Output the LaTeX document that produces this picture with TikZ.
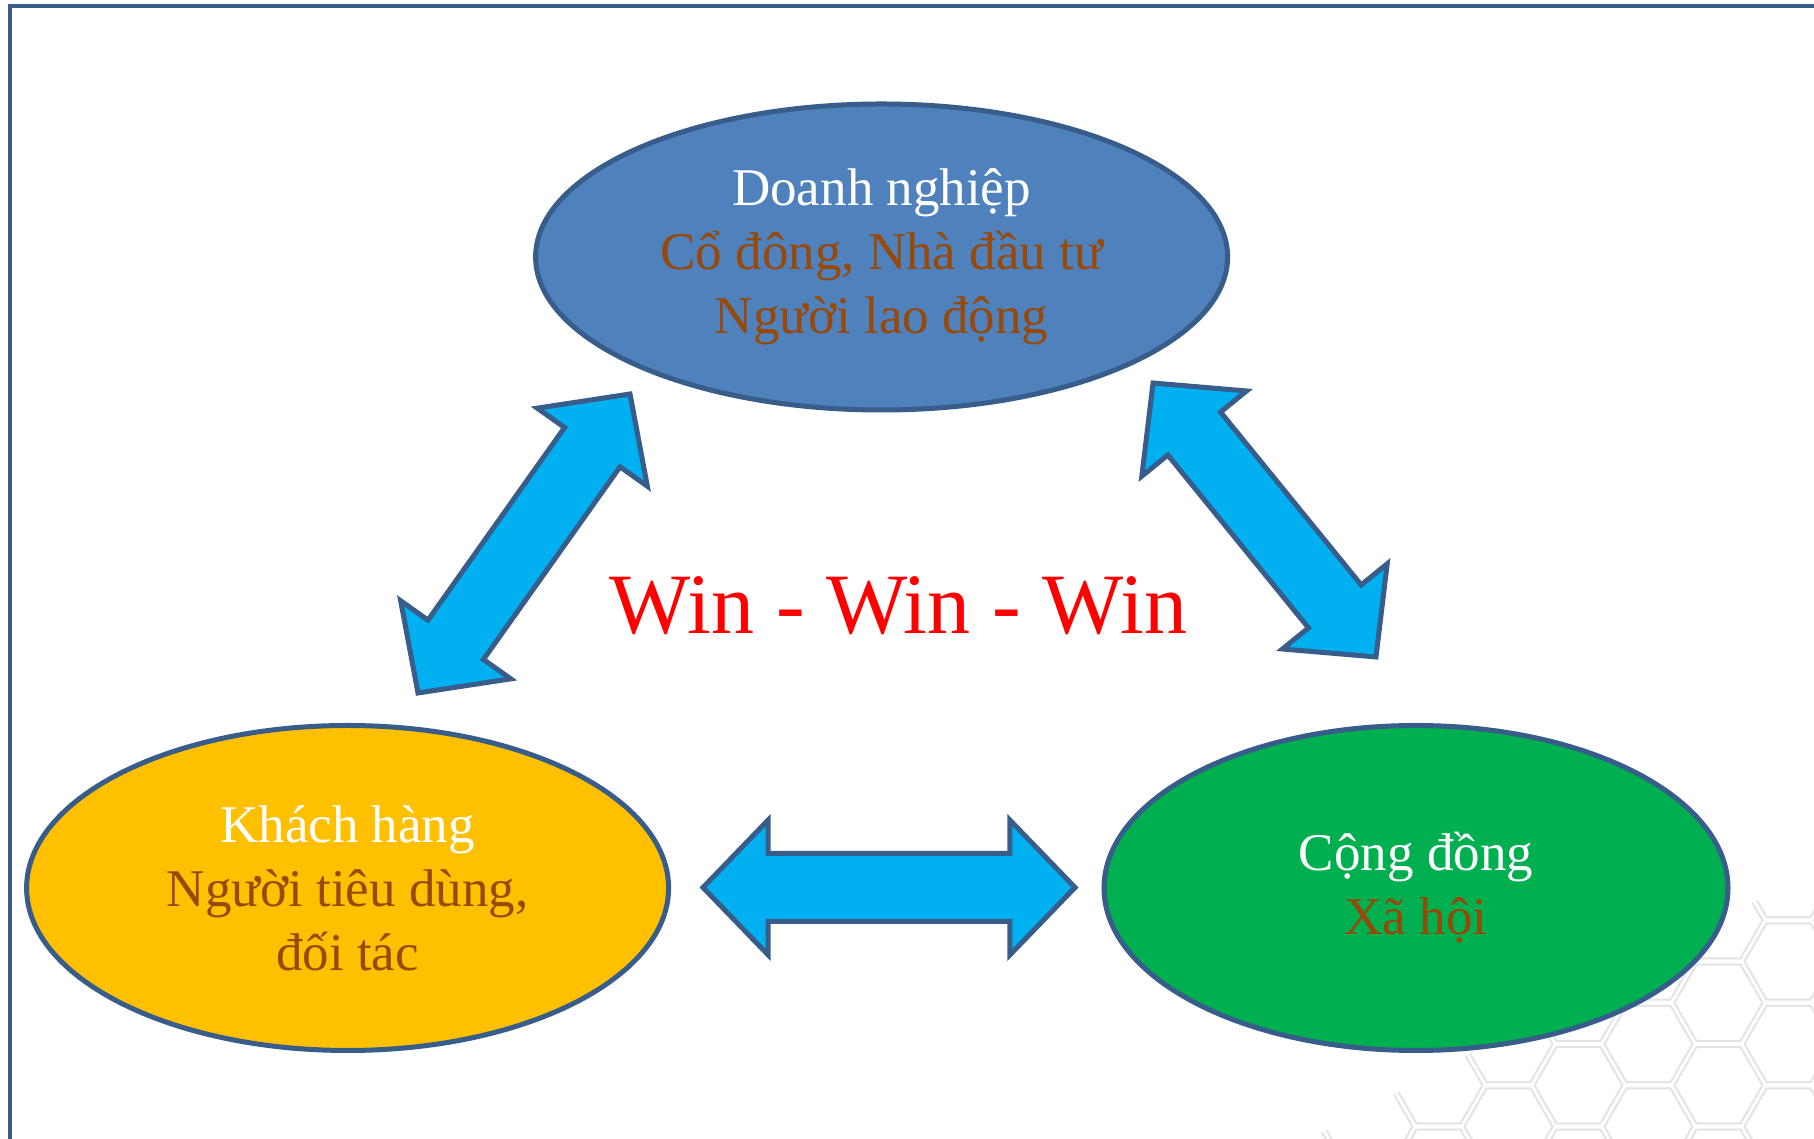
\documentclass[tikz,border=0pt]{standalone}
\usepackage{fontspec}
\setmainfont{Liberation Serif}
\usetikzlibrary{shapes.geometric,shapes.arrows}
\definecolor{outl}{HTML}{385D8A}
\definecolor{dnblue}{HTML}{4F81BD}
\definecolor{khyellow}{HTML}{FFC000}
\definecolor{cdgreen}{HTML}{00B050}
\definecolor{arrcyan}{HTML}{00B0F0}
\definecolor{txtbrown}{HTML}{984807}
\definecolor{hexgray}{HTML}{E4E4E4}
\newcommand\brn[1]{\textcolor{txtbrown}{#1}}
\tikzset{
  party/.style={ellipse, draw=outl, line width=2.5pt, text=white, align=center,
    inner sep=0pt, font=\fontsize{26.5pt}{32pt}\selectfont},
  bigarrow/.style={double arrow, draw=outl, line width=2.5pt, fill=arrcyan,
    minimum width=65pt, double arrow head extend=16.75pt,
    double arrow tip angle=92, inner xsep=0pt, inner ysep=15.75pt},
  hexline/.style={draw=hexgray, line width=1pt}
}

\begin{document}
\begin{tikzpicture}[x=0.5pt,y=0.5pt]
			%%%%% START %%%%%
			\useasboundingbox (0,0) rectangle (1814,1139);
			\fill[white] (0,0) rectangle (1814,1139);
			
			% hexagons, bottom right
			\begin{scope}
				\clip (1310,0) -- (1814,0) -- (1814,269) -- cycle;
				\foreach \j in {-1,...,8}
					\foreach \k in {-2,...,3}
						\draw[hexline] ({1788.5-70*\j},{177.5-41.25*\j-82.5*\k})
							+(0:44) -- +(60:44) -- +(120:44) -- +(180:44) -- +(240:44) -- +(300:44) -- cycle;
			\end{scope}
			
			% frame
			\draw[outl, line width=2.3pt] (10,0) -- (10,1133) -- (1814,1133);
			
			\node[party, fill=dnblue, minimum width=346pt, minimum height=153pt] (dn) at (881.6,882)
				{Doanh nghiệp\\\brn{Cổ đông, Nhà đầu tư}\\\brn{Người lao động}};
			\node[party, fill=khyellow, minimum width=321pt, minimum height=162.5pt] (kh) at (347.6,251)
				{Khách hàng\\\brn{Người tiêu dùng,}\\\brn{đối tác}};
			\node[party, fill=cdgreen, minimum width=312pt, minimum height=162.5pt] (cd) at (1416,251)
				{Cộng đồng\\\brn{Xã hội}};
			
			\node[bigarrow, minimum height=183.25pt, rotate=54.66] (dn-kh) at (524,595.5) {};
			\node[bigarrow, minimum height=176.6pt, rotate=-50.86] (dn-cd) at (1264.5,619) {};
			\node[bigarrow, minimum height=186pt] (kh-cd) at (889,251.5) {};
			
			\node[anchor=base, text=red, font=\fontsize{43pt}{52pt}\selectfont] (win) at (898.5,505)
				{Win - Win - Win};
			%%%%% END %%%%%
\end{tikzpicture}
\end{document}
